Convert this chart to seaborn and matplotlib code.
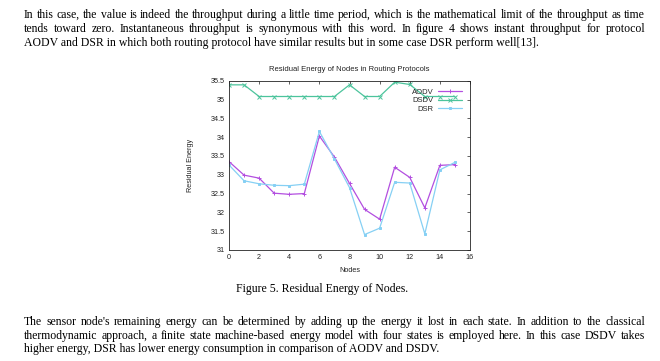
import numpy as np
import pandas as pd
import seaborn as sns
import matplotlib
matplotlib.use("Agg")
import matplotlib.pyplot as plt
from matplotlib.ticker import FuncFormatter, MultipleLocator

# ---------------------------------------------------------------- data
nodes = list(range(16))
aodv = [33.35, 32.99, 32.91, 32.51, 32.48, 32.50, 34.03, 33.47,
        32.77, 32.08, 31.82, 33.20, 32.93, 32.12, 33.25, 33.27]
dsdv = [35.39, 35.39, 35.08, 35.08, 35.08, 35.08, 35.08, 35.08,
        35.39, 35.08, 35.08, 35.46, 35.40, 35.08, 35.08, 35.08]
dsr = [33.26, 32.84, 32.76, 32.72, 32.71, 32.75, 34.15, 33.42,
       32.66, 31.41, 31.58, 32.80, 32.78, 31.43, 33.13, 33.33]
protocols = ["AODV", "DSDV", "DSR"]
colors = {"AODV": "#b34fe0", "DSDV": "#4cc49c", "DSR": "#86d0f4"}
markers = {"AODV": "+", "DSDV": "x", "DSR": "s"}

chart_title = "Residual Energy of Nodes in Routing Protocols"
x_label = "Nodes"
y_label = "Residual Energy"
caption = "Figure 5. Residual Energy of Nodes."
para1 = [
    "In this case, the value is indeed the throughput during a little time period, which is the mathematical limit of the throughput as time",
    "tends toward zero. Instantaneous throughput is synonymous with this word. In figure 4 shows instant throughput for protocol",
    "AODV and DSR in which both routing protocol have similar results but in some case DSR perform well[13].",
]
para2 = [
    "The sensor node's remaining energy can be determined by adding up the energy it lost in each state. In addition to the classical",
    "thermodynamic approach, a finite state machine-based energy model with four states is employed here. In this case DSDV takes",
    "higher energy, DSR has lower energy consumption in comparison of AODV and DSDV.",
]

df = pd.DataFrame({"Nodes": nodes * 3,
                   "Energy": aodv + dsdv + dsr,
                   "Protocol": [p for p in protocols for _ in nodes]})

# ---------------------------------------------------------------- figure
W, H = 660, 361
sns.set_style("white")
plt.rcParams["font.family"] = ["Liberation Sans", "DejaVu Sans"]
fig = plt.figure(figsize=(W / 100, H / 100), dpi=100)
fig.patch.set_facecolor("white")

ax = fig.add_axes([229 / W, 1 - 250 / H, (470 - 229) / W, (250 - 80.7) / H])
for p in protocols:
    sub = df[df["Protocol"] == p]
    sns.lineplot(data=sub, x="Nodes", y="Energy", ax=ax, color=colors[p],
                 marker=markers[p], markersize=2 if p == "DSR" else 3.5,
                 markeredgewidth=0.7, linewidth=0.9, label=p,
                 markerfacecolor=colors[p], markeredgecolor=colors[p])

ax.set_xlim(0, 16)
ax.set_ylim(31, 35.5)
ax.xaxis.set_major_locator(MultipleLocator(2))
ax.yaxis.set_major_locator(MultipleLocator(0.5))
ax.yaxis.set_major_formatter(FuncFormatter(lambda v, pos: "%g" % v))
ax.tick_params(direction="in", length=2.5, width=0.5, labelsize=5.2,
               top=True, right=True, pad=3, colors="#222222")
for s in ax.spines.values():
    s.set_linewidth(0.6)
    s.set_color("#222222")
ax.set_title(chart_title, fontsize=5.5, pad=7, color="#222222")
ax.set_xlabel(x_label, fontsize=5.2, labelpad=4, color="#222222")
ax.set_ylabel(y_label, fontsize=5.2, labelpad=12, color="#222222")

leg = ax.legend(loc="upper right", frameon=False, markerfirst=False,
                fontsize=5.5, handlelength=3.2, handletextpad=0.6,
                labelspacing=0.15, borderaxespad=0.6)

# ---------------------------------------------------------------- page text
serif = ["Liberation Serif", "DejaVu Serif"]
fsize = 8.5
fig.canvas.draw()
renderer = fig.canvas.get_renderer()


def justify(lines, baselines, x0=24, x1=645):
    for i, (line, yb) in enumerate(zip(lines, baselines)):
        if i == len(lines) - 1:
            # last line of a paragraph: left aligned, natural spacing
            fig.text(x0 / W, 1 - yb / H, line, family=serif, fontsize=fsize,
                     va="baseline", ha="left", color="black")
            continue
        words = line.split()
        texts = [fig.text(0, 0, w, family=serif, fontsize=fsize, va="baseline",
                          ha="left", color="black") for w in words]
        widths = [t.get_window_extent(renderer).width for t in texts]
        gap = (x1 - x0 - sum(widths)) / (len(words) - 1)
        x = x0
        for t, w in zip(texts, widths):
            t.set_position((x / W, 1 - yb / H))
            x += w + gap


justify(para1, [18, 32, 46])
fig.text(322 / W, 1 - 292 / H, caption, family=serif, fontsize=fsize,
         ha="center", va="baseline", color="black")
justify(para2, [325, 339, 352])

fig.savefig("out.png", dpi=100, facecolor="white")
